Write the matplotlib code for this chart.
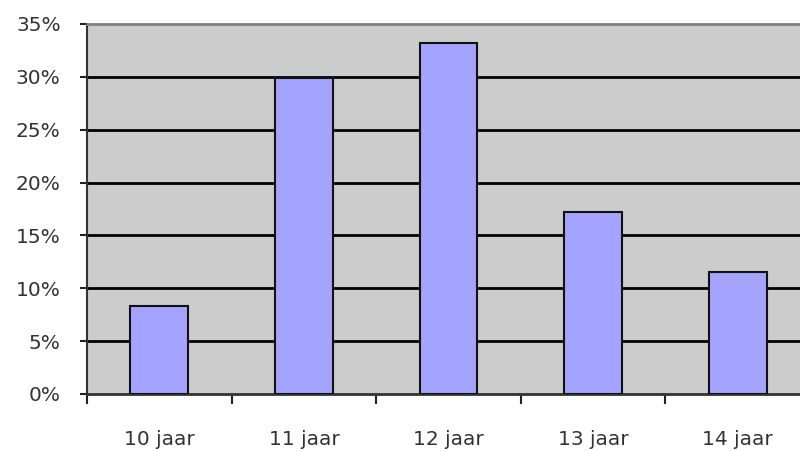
import numpy as np
import matplotlib.pyplot as plt
from matplotlib.ticker import FixedLocator

# gegevens
categories = ['10 jaar', '11 jaar', '12 jaar', '13 jaar', '14 jaar']
values = [8.3, 29.9, 33.2, 17.2, 11.5]
yticks = [0, 5, 10, 15, 20, 25, 30, 35]

fig = plt.figure(figsize=(8, 4.51), dpi=100)
ax = fig.add_axes([0.10875, 0.1264, 0.9038, 0.8204])
ax.set_facecolor('#cccccc')

x = np.arange(len(categories))
ax.bar(x, values, width=0.4, color='#a4a4ff', edgecolor='#111111', linewidth=1.5, zorder=3)

ax.set_xlim(-0.5, len(categories) - 0.5)
ax.set_ylim(0, 35)
ax.set_yticks(yticks)
ax.set_yticklabels([f'{v}%' for v in yticks], fontsize=14.5, color='#333333')

# rasterlijnen
for v in yticks[1:-1]:
    ax.axhline(v, color='black', linewidth=2, zorder=2)

# x-as: streepjes tussen categorieën, labels in het midden
ax.xaxis.set_major_locator(FixedLocator(x - 0.5))
ax.xaxis.set_minor_locator(FixedLocator(x))
ax.set_xticklabels([])
ax.set_xticklabels(categories, minor=True, fontsize=14.5, color='#333333')
ax.tick_params(axis='x', which='major', length=7, width=1.5, color='#222222')
ax.tick_params(axis='x', which='minor', length=0, pad=26)
ax.tick_params(axis='y', length=5, width=1.5, color='#222222', pad=14)

ax.spines['top'].set_color('#808080')
ax.spines['top'].set_linewidth(2)
ax.spines['right'].set_visible(False)
ax.spines['left'].set_color('#333333')
ax.spines['left'].set_linewidth(1.5)
ax.spines['bottom'].set_color('#333333')
ax.spines['bottom'].set_linewidth(2)

fig.savefig('out.png', dpi=100)
